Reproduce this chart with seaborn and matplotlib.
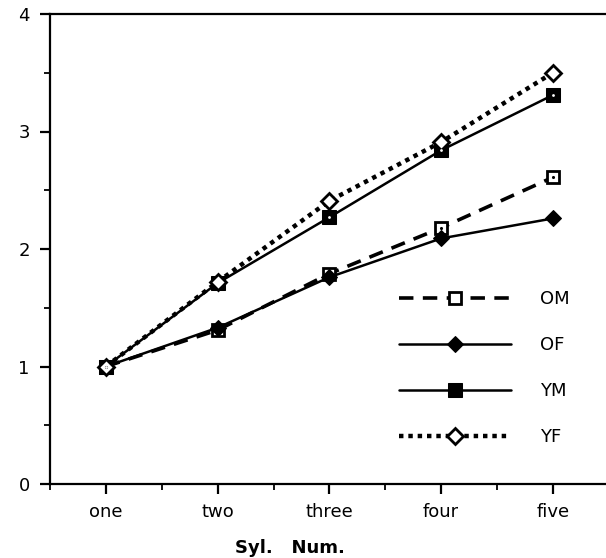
import numpy as np
import pandas as pd
import seaborn as sns
import matplotlib
matplotlib.use('Agg')
import matplotlib.pyplot as plt
from matplotlib.ticker import AutoMinorLocator

# syllable number categories
syl = ['one', 'two', 'three', 'four', 'five']
# ratios
om = [1.00, 1.31, 1.79, 2.18, 2.61]
of = [1.00, 1.33, 1.76, 2.09, 2.26]
ym = [1.00, 1.71, 2.27, 2.84, 3.31]
yf = [1.00, 1.72, 2.41, 2.91, 3.50]

sns.set_style('ticks')
plt.rcParams['font.family'] = ['DejaVu Sans']
plt.rcParams['text.color'] = 'k'

fig = plt.figure(figsize=(6.06, 5.58), dpi=100)
ax = fig.add_axes([50 / 606, 1 - 484 / 558, 1 - 50 / 606, (484 - 14) / 558])

pos = np.arange(1, len(syl) + 1)

sns.lineplot(x=pos, y=om, ax=ax, color='k', lw=2.6, dashes=False,
             linestyle=(0, (4, 2.6)), marker='s', ms=9, mfc='white',
             mec='k', mew=2, label='OM')
sns.lineplot(x=pos, y=of, ax=ax, color='k', lw=1.8, marker='D', ms=8,
             mfc='k', mec='k', label='OF')
sns.lineplot(x=pos, y=ym, ax=ax, color='k', lw=1.8, marker='s', ms=10,
             mfc='k', mec='k', label='YM')
sns.lineplot(x=pos, y=yf, ax=ax, color='k', lw=3.2, dashes=False,
             linestyle=(0, (1, 1.1)), marker='D', ms=8, mfc='white',
             mec='k', mew=2, label='YF')
# little white dots in the filled square, black dots in open square
sns.scatterplot(x=pos, y=om, ax=ax, color='k', s=5, linewidth=0, legend=False, zorder=5)
sns.scatterplot(x=pos, y=ym, ax=ax, color='white', s=4, linewidth=0, legend=False, zorder=5)

ax.set_xlim(0.5, 0.5 + (606 - 50) / 111.75)
ax.set_ylim(0, 4)
ax.set_xticks(pos)
ax.set_xticklabels(syl)
ax.set_yticks([0, 1, 2, 3, 4])
ax.xaxis.set_minor_locator(AutoMinorLocator(2))
ax.yaxis.set_minor_locator(AutoMinorLocator(2))
ax.tick_params(which='major', direction='out', length=7.5, width=1.6,
               labelsize=13, color='k', labelcolor='k')
ax.tick_params(which='minor', direction='out', length=4, width=1.3, color='k')
ax.tick_params(axis='y', pad=7)
ax.tick_params(axis='x', pad=6)

for s in ['left', 'bottom', 'top']:
    ax.spines[s].set_linewidth(1.6)
    ax.spines[s].set_color('k')
ax.spines['right'].set_visible(False)

ax.set_xlabel('Syl.   Num.', fontsize=13, fontweight='bold', color='k')
ax.xaxis.set_label_coords((290 - 50) / 556, -0.118)
ax.set_ylabel('')

ax.legend(loc='center left', bbox_to_anchor=(0.598, 0.247), frameon=False,
          handlelength=6.2, handletextpad=1.6, labelspacing=1.55,
          fontsize=13, numpoints=1, labelcolor='k')

fig.savefig('out.png', dpi=100)
